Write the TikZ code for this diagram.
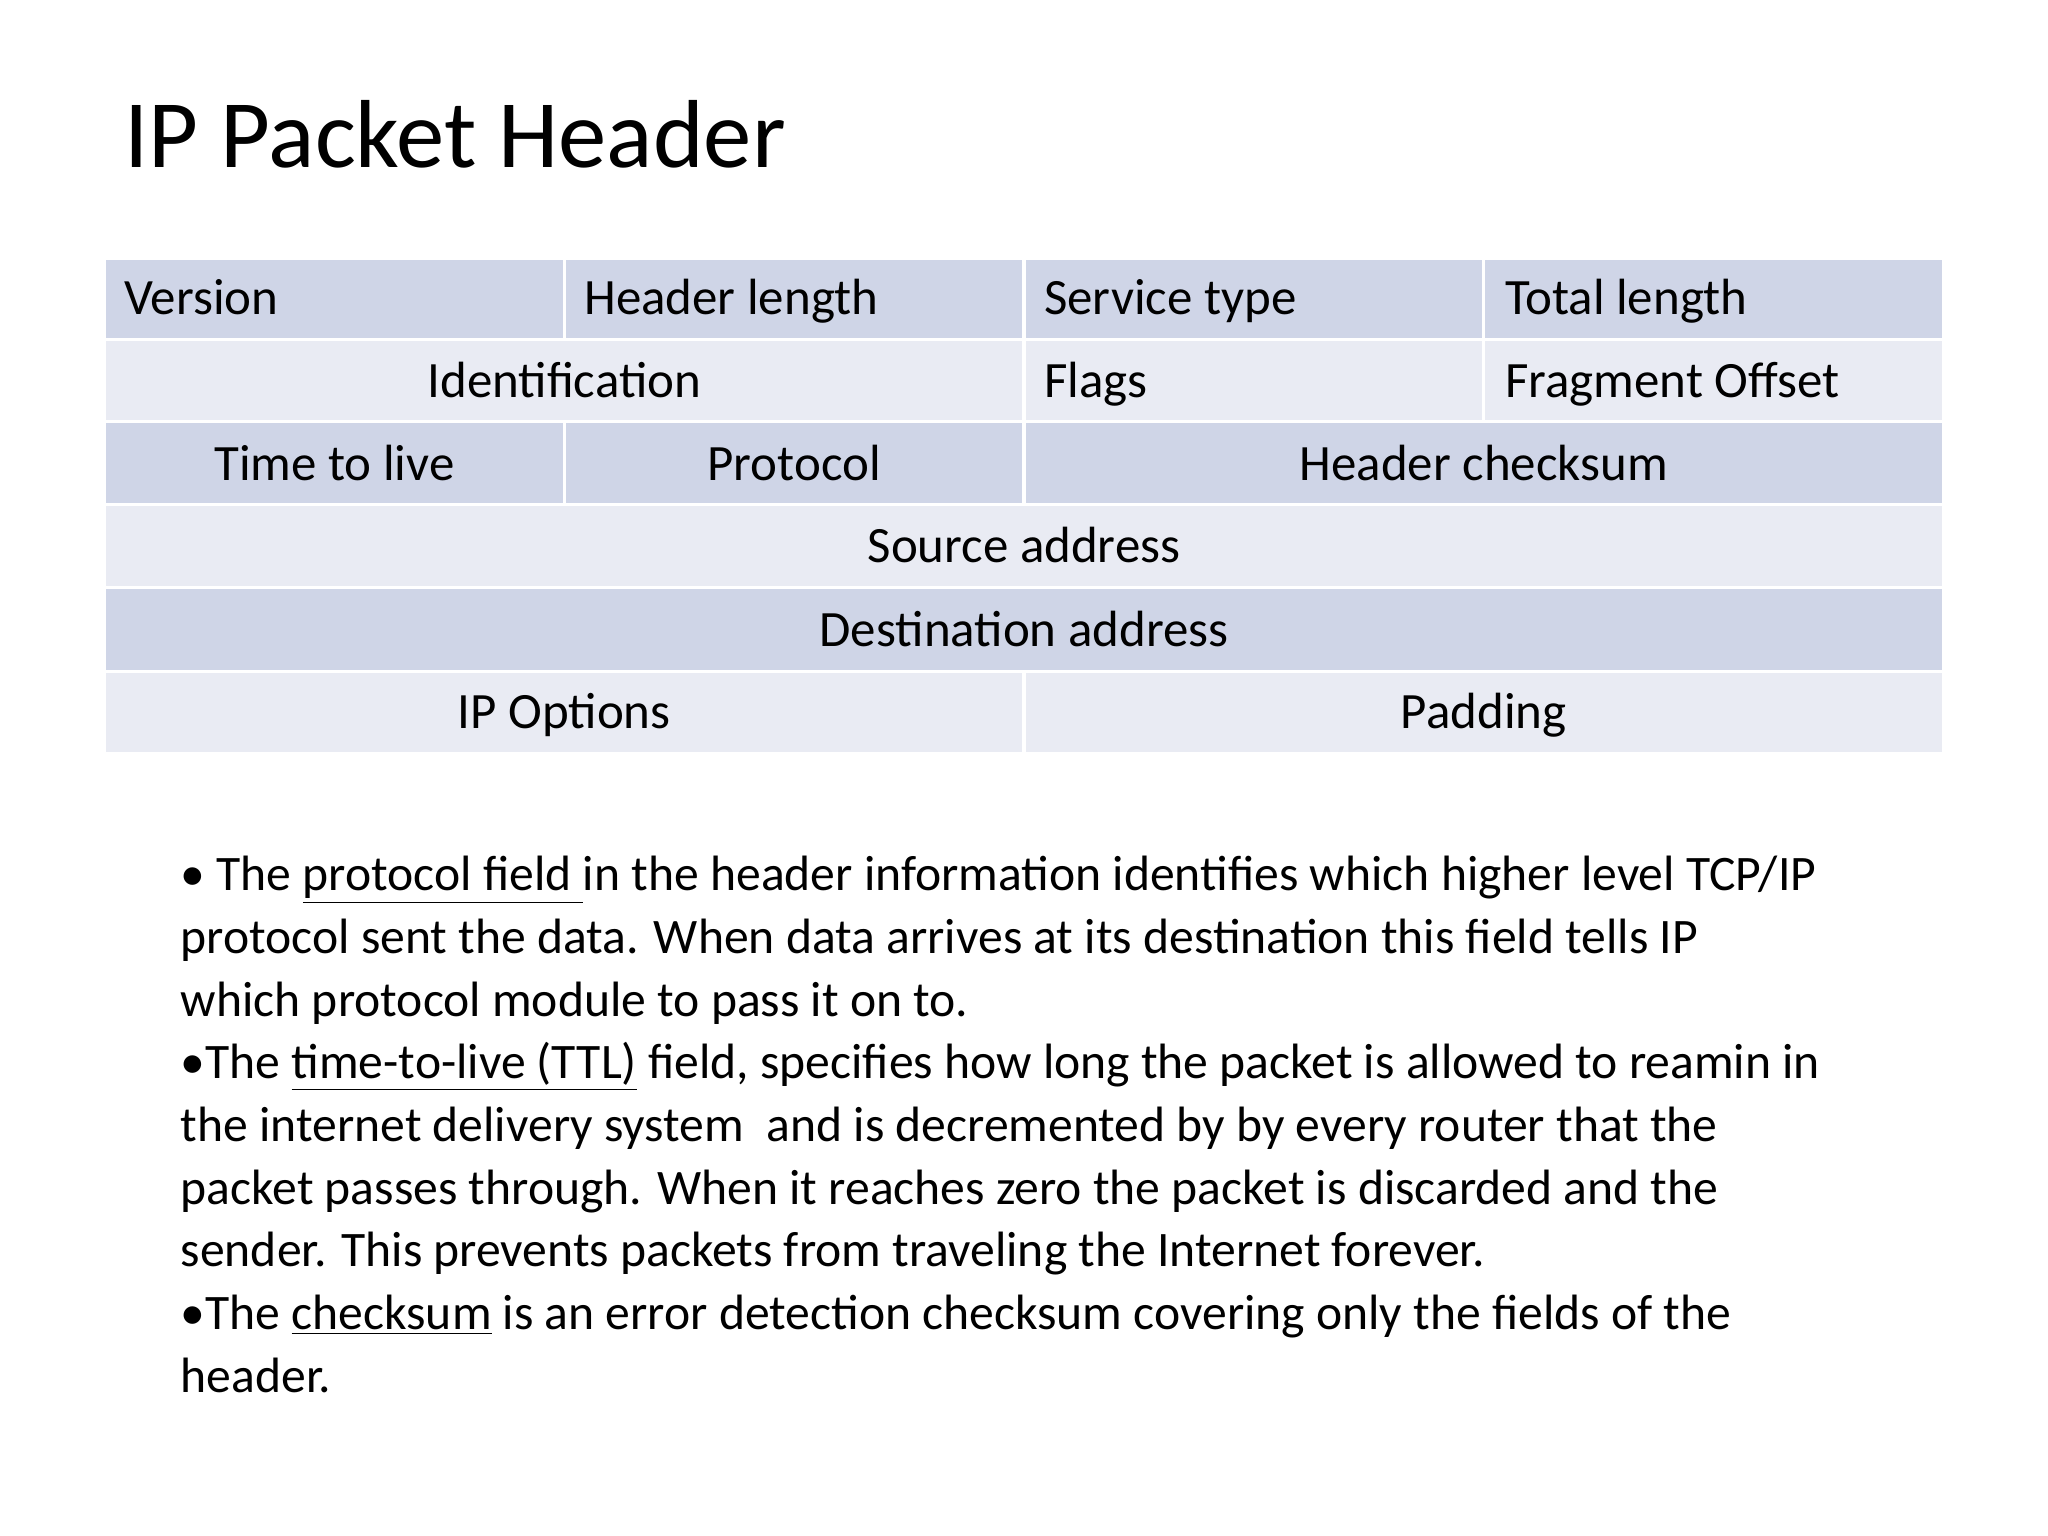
\documentclass[tikz,border=0pt]{standalone}
\usepackage{fontspec}
\setmainfont{Carlito}
\begin{document}
\begin{tikzpicture}[x=0.5pt,y=-0.5pt,
  dk/.style={fill=dkc,draw=white,line width=1.2pt},
  lt/.style={fill=ltc,draw=white,line width=1.2pt},
  ct/.style={font=\fontsize{19.5}{23}\selectfont,anchor=base},
  lf/.style={font=\fontsize{19.5}{23}\selectfont,anchor=base west},
  bl/.style={font=\fontsize{19}{24}\selectfont,anchor=base west,inner sep=0pt}]
\definecolor{dkc}{HTML}{CFD5E7}
\definecolor{ltc}{HTML}{E9EBF3}
\useasboundingbox (0,0) rectangle (1568,1176);
\fill[white] (0,0) rectangle (1568,1176);
\node[anchor=base west,inner sep=0pt,font=\fontsize{37}{44}\selectfont] (title) at (95,128) {IP Packet Header};
% row 1
\draw[dk] (80,198) rectangle (432,260); \draw[dk] (432,198) rectangle (784,260);
\draw[dk] (784,198) rectangle (1136,260); \draw[dk] (1136,198) rectangle (1488,260);
\node[lf,inner sep=0pt] (v) at (95,241) {Version};
\node[lf,inner sep=0pt] (hl) at (447,241) {Header length};
\node[lf,inner sep=0pt] (st) at (799,241) {Service type};
\node[lf,inner sep=0pt] (tl) at (1152,241) {Total length};
% row 2
\draw[lt] (80,260) rectangle (784,323); \draw[lt] (784,260) rectangle (1136,323); \draw[lt] (1136,260) rectangle (1488,323);
\node[ct,inner sep=0pt] (id) at (432,304) {Identification};
\node[lf,inner sep=0pt] (fl) at (799,304) {Flags};
\node[lf,inner sep=0pt] (fo) at (1152,304) {Fragment Offset};
% row 3
\draw[dk] (80,323) rectangle (432,386); \draw[dk] (432,323) rectangle (784,386); \draw[dk] (784,323) rectangle (1488,386);
\node[ct,inner sep=0pt] (ttl) at (256,368) {Time to live};
\node[ct,inner sep=0pt] (pr) at (608,368) {Protocol};
\node[ct,inner sep=0pt] (hc) at (1136,368) {Header checksum};
% row 4
\draw[lt] (80,386) rectangle (1488,450);
\node[ct,inner sep=0pt] (sa) at (784,431) {Source address};
% row 5
\draw[dk] (80,450) rectangle (1488,514);
\node[ct,inner sep=0pt] (da) at (784,495) {Destination address};
% row 6
\draw[lt] (80,514) rectangle (784,577); \draw[lt] (784,514) rectangle (1488,577);
\node[ct,inner sep=0pt] (io) at (432,558) {IP Options};
\node[ct,inner sep=0pt] (pd) at (1136,558) {Padding};
% body
\node[bl] (l1) at (138,682) {• The \underline{protocol field }in the header information identifies which higher level TCP/IP};
\node[bl] (l2) at (138,730) {protocol sent the data. When data arrives at its destination this field tells IP};
\node[bl] (l3) at (138,778) {which protocol module to pass it on to.};
\node[bl] (l4) at (138,826) {•The \underline{time-to-live (TTL)} field, specifies how long the packet is allowed to reamin in};
\node[bl] (l5) at (138,874) {the internet delivery system\ \ and is decremented by by every router that the};
\node[bl] (l6) at (138,922) {packet passes through. When it reaches zero the packet is discarded and the};
\node[bl] (l7) at (138,970) {sender. This prevents packets from traveling the Internet forever.};
\node[bl] (l8) at (138,1018) {•The \underline{checksum} is an error detection checksum covering only the fields of the};
\node[bl] (l9) at (138,1066) {header.};
\end{tikzpicture}
\end{document}
